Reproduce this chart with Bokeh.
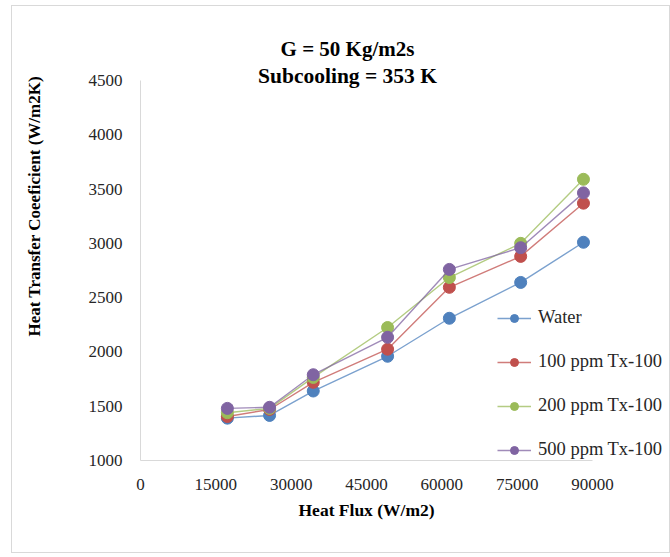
from bokeh.plotting import figure
from bokeh.models import Range1d, FixedTicker, Label, Legend, LegendItem, Title
from bokeh.embed import file_html
from bokeh.resources import INLINE

# ---- data ----
heat_flux = [17300, 25700, 34400, 49200, 61500, 75700, 88200]
water = [1390, 1415, 1640, 1960, 2310, 2640, 3010]
ppm100 = [1405, 1470, 1720, 2025, 2595, 2880, 3370]
ppm200 = [1440, 1480, 1765, 2225, 2685, 3000, 3590]
ppm500 = [1480, 1490, 1790, 2135, 2760, 2960, 3465]

series_names = ["Water", "100 ppm Tx-100", "200 ppm Tx-100", "500 ppm Tx-100"]
series_values = [water, ppm100, ppm200, ppm500]
colors = ["#4F81BD", "#C0504D", "#9BBB59", "#8064A2"]

x_ticks = [0, 15000, 30000, 45000, 60000, 75000, 90000]
y_ticks = [1000, 1500, 2000, 2500, 3000, 3500, 4000, 4500]

title_lines = ["G = 50 Kg/m2s", "Subcooling = 353 K"]
x_title = "Heat Flux (W/m2)"
y_title = "Heat Transfer Coeeficient (W/m2K)"

SERIF = "Liberation Serif"

# ---- layout (pixels) ----
AXIS_W = 452          # pixel length of the 0..90000 axis
AXIS_H = 380          # pixel length of the 1000..4500 axis
FRAME_W = 528         # frame continues to the right (legend lives there)
FRAME_H = 440         # frame continues upward (chart title lives there)
x0, x1 = x_ticks[0], x_ticks[-1]
y0, y1 = y_ticks[0], y_ticks[-1]
x_end = x0 + (x1 - x0) * FRAME_W / AXIS_W
y_end = y0 + (y1 - y0) * FRAME_H / AXIS_H
px_y = (y1 - y0) / AXIS_H   # data units per pixel (y)
px_x = (x1 - x0) / AXIS_W   # data units per pixel (x)

p = figure(width=659, height=548, output_backend="svg", toolbar_location=None,
           x_range=Range1d(x0, x_end), y_range=Range1d(y0, y_end),
           min_border_left=128, min_border_right=3, min_border_top=14,
           min_border_bottom=94)
p.margin = (5, 0, 0, 11)
p.styles = {"border": "1px solid #d9d9d9"}
p.outline_line_color = None
p.grid.visible = False
p.background_fill_color = "white"
p.border_fill_color = "white"

for ax in (p.xaxis[0], p.yaxis[0]):
    ax.axis_line_color = "#d9d9d9"
    ax.axis_line_width = 1
    ax.major_tick_line_color = None
    ax.minor_tick_line_color = None
    ax.major_label_text_font = SERIF
    ax.major_label_text_font_size = "17px"
    ax.major_label_text_color = "#262626"

p.xaxis.ticker = FixedTicker(ticks=x_ticks)
p.yaxis.ticker = FixedTicker(ticks=y_ticks)
p.xaxis.bounds = (x0, x1)
p.yaxis.bounds = (y0, y1)
p.xaxis.major_label_standoff = 12
p.yaxis.major_label_standoff = 12
# blank axis label only used to reserve room between tick labels and title
p.yaxis.axis_label = " "
p.yaxis.axis_label_standoff = 14
p.yaxis.axis_label_text_font_size = "17px"

items = []
for name, vals, c in zip(series_names, series_values, colors):
    ln = p.line(heat_flux, vals, line_color=c, line_width=1.4, line_alpha=0.75)
    sc = p.scatter(heat_flux, vals, size=12, fill_color=c, line_color=c,
                   marker="circle")
    items.append(LegendItem(label=name, renderers=[ln, sc]))

legend = Legend(items=items, location=(357, 0), orientation="vertical",
                glyph_width=34, glyph_height=20, label_height=20,
                label_standoff=7, spacing=23, padding=0, margin=0,
                border_line_color=None, background_fill_alpha=0,
                label_text_font=SERIF, label_text_font_size="18.5px",
                label_text_color="#262626")
p.add_layout(legend, "center")

# chart title (two centred lines above the axis area)
title_x = x0 + 207 * px_x
p.add_layout(Label(x=title_x, y=y1 + 32 * px_y, text=title_lines[0],
                   text_align="center", text_baseline="middle",
                   text_font=SERIF, text_font_style="bold",
                   text_font_size="21px", text_color="#000000"))
p.add_layout(Label(x=title_x, y=y1 + 5 * px_y, text=title_lines[1],
                   text_align="center", text_baseline="middle",
                   text_font=SERIF, text_font_style="bold",
                   text_font_size="21.5px", text_color="#000000"))

# axis titles
p.add_layout(Title(text=x_title, align="left", offset=158, standoff=12,
                   vertical_align="middle", text_font=SERIF,
                   text_font_style="bold", text_font_size="17.5px",
                   text_color="#000000"), "below")
p.add_layout(Title(text=y_title, align="left", offset=124, standoff=10,
                   vertical_align="middle", text_font=SERIF,
                   text_font_style="bold", text_font_size="17px",
                   text_color="#000000"), "left")

open("out.html", "w").write(file_html(p, INLINE))
